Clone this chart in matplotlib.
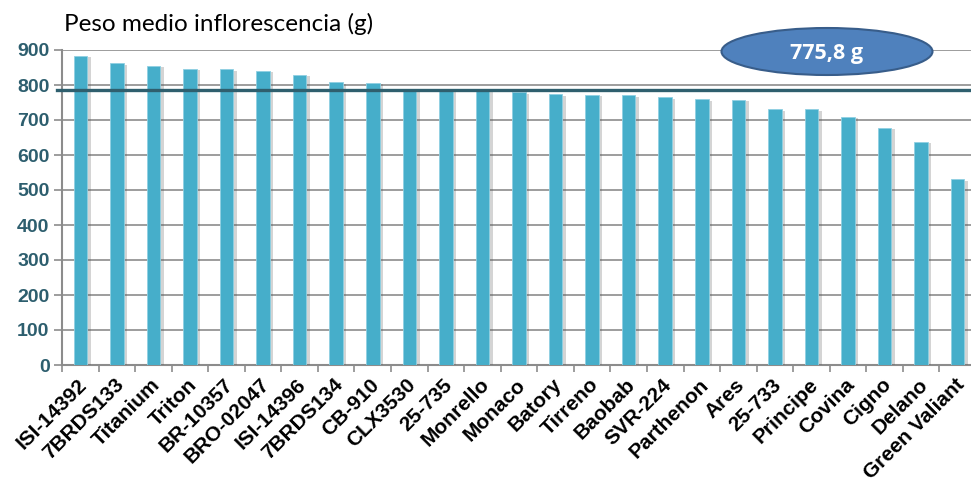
import matplotlib.pyplot as plt
import matplotlib.patheffects as pe
from matplotlib.patches import Ellipse

varieties = ["ISI-14392", "7BRDS133", "Titanium", "Triton", "BR-10357", "BRO-02047",
             "ISI-14396", "7BRDS134", "CB-910", "CLX3530", "25-735", "Monrello", "Monaco",
             "Batory", "Tirreno", "Baobab", "SVR-224", "Parthenon", "Ares", "25-733",
             "Principe", "Covina", "Cigno", "Delano", "Green Valiant"]
peso = [883, 862, 854, 847, 845, 840, 829, 808, 807, 790, 789, 786, 779,
        773, 772, 771, 765, 759, 757, 731, 731, 710, 677, 638, 531]
media_line = 786
media_label = "775,8 g"
yticks = [0, 100, 200, 300, 400, 500, 600, 700, 800, 900]

bar_color = "#46AECA"
grid_color = "#8C8C8C"
tick_color = "#2D5E6E"

fig = plt.figure(figsize=(9.71, 4.82), dpi=100)
ax = fig.add_axes([62 / 971, 117 / 482, 914 / 971, 315 / 482])
x = list(range(len(varieties)))

bars = ax.bar(x, peso, width=0.37, color=bar_color, edgecolor="#8fd0e2", linewidth=0.6, zorder=3)
for b in bars:
	b.set_path_effects([pe.SimplePatchShadow(offset=(2.5, -1), shadow_rgbFace="#555555", alpha=0.25), pe.Normal()])

ax.set_xlim(-0.5, len(varieties) - 0.5)
ax.set_ylim(0, 900)
ax.set_yticks(yticks)
ax.set_yticklabels([str(v) for v in yticks], fontsize=14, fontweight="bold", color=tick_color,
                   family="Liberation Sans")
ax.tick_params(axis="y", length=6, color=grid_color, width=1.2, pad=3)
ax.yaxis.grid(True, color=grid_color, linewidth=1.2, zorder=1)
ax.set_axisbelow(True)

ax.set_xticks([i - 0.5 for i in x] + [len(x) - 0.5])
ax.set_xticklabels([])
ax.tick_params(axis="x", length=5, color=grid_color, width=1.2)
for i, name in enumerate(varieties):
	ax.text(i + 0.1, -48, name, rotation=45, rotation_mode="anchor", ha="right", va="center",
	        fontsize=15, fontweight="bold", family="Liberation Sans", color="black")

for s in ["top", "right"]:
	ax.spines[s].set_visible(False)
for s in ["left", "bottom"]:
	ax.spines[s].set_color(grid_color)
	ax.spines[s].set_linewidth(1.5)

ax.axhline(media_line, xmin=-0.005, xmax=1, color="#2F5F6E", linewidth=2.4, zorder=4, clip_on=False)

ell = Ellipse((827 / 971, 1 - 51.5 / 482), 211 / 971, 47 / 482, transform=fig.transFigure,
              facecolor="#4F81BD", edgecolor="#385D8A", linewidth=1.5, zorder=5)
fig.add_artist(ell)
fig.text(827 / 971, 1 - 53 / 482, media_label, ha="center", va="center", color="white",
         fontsize=15.5, fontweight="bold", family="Open Sans", zorder=6)

fig.text(64 / 971, 1 - 24 / 482, "Peso medio inflorescencia (g)", ha="left", va="center",
         fontsize=17.5, family="Lato", color="black")

fig.savefig("out.png", dpi=100)
